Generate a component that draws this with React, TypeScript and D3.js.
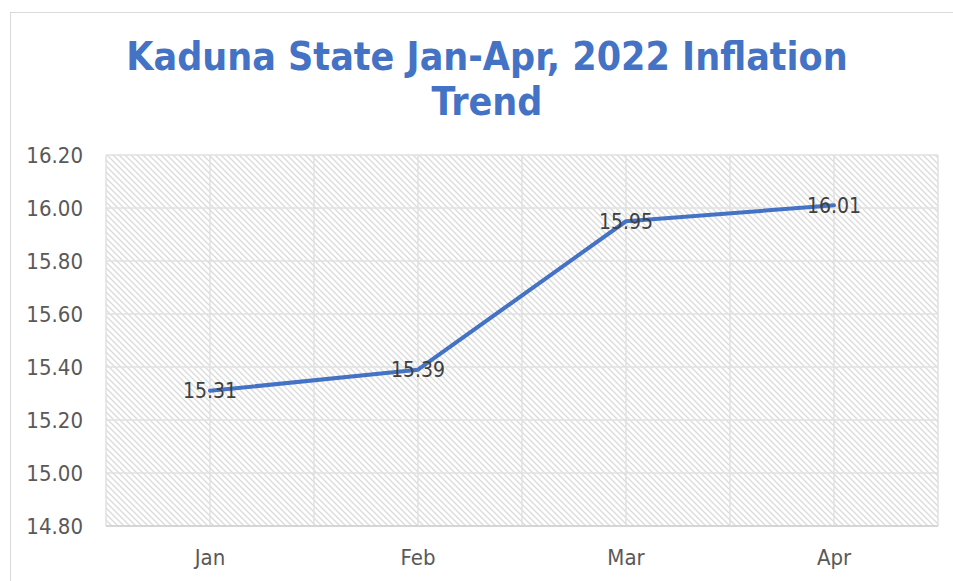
import React from 'react';
import * as d3 from 'd3';

const months = ['Jan', 'Feb', 'Mar', 'Apr'];
const inflation = [15.31, 15.39, 15.95, 16.01];
const yTicks = [14.8, 15.0, 15.2, 15.4, 15.6, 15.8, 16.0, 16.2];
const title = ['Kaduna State Jan-Apr, 2022 Inflation', 'Trend'];

const W = 953;
const H = 581;
const plot = { left: 106, right: 938, top: 155, bottom: 526 };

export default function App() {
  const x = d3.scaleBand<string>()
    .domain(months)
    .range([plot.left, plot.right]);

  const y = d3.scaleLinear()
    .domain([14.8, 16.2])
    .range([plot.bottom, plot.top]);

  const cx = (m: string) => (x(m) ?? 0) + x.bandwidth() / 2;

  const line = d3.line<number>()
    .x((_, i) => cx(months[i]))
    .y(d => y(d));

  // vertical grid at category edges and centres
  const vLines: number[] = [];
  months.forEach(m => {
    vLines.push(x(m) ?? 0);
    vLines.push(cx(m));
  });
  vLines.push(plot.right);

  const font = "'DejaVu Sans Condensed', 'DejaVu Sans', sans-serif";

  return (
    <svg width={W} height={H} style={{ position: 'absolute', left: 0, top: 0 }}>
      <defs>
        <pattern id="hatch" width="6" height="6" patternUnits="userSpaceOnUse">
          <path d="M-1.5,-1.5 L7.5,7.5 M-1.5,4.5 L1.5,7.5 M4.5,-1.5 L7.5,1.5" stroke="#dadada" strokeWidth="1.3" />
        </pattern>
      </defs>
      <rect x={0} y={0} width={W} height={H} fill="#fff" />
      <rect x={10.5} y={12.5} width={W + 10} height={H + 10} fill="#fff" stroke="#d9d9d9" />

      {title.map((t, i) => (
        <text
          key={i}
          x={487}
          y={70 + i * 45}
          textAnchor="middle"
          fill="#4472C4"
          fontFamily={font}
          fontWeight="bold"
          fontSize={39}
        >
          {t}
        </text>
      ))}

      <rect
        x={plot.left}
        y={plot.top}
        width={plot.right - plot.left}
        height={plot.bottom - plot.top}
        fill="url(#hatch)"
      />

      {yTicks.map(t => (
        <line key={t} x1={plot.left} x2={plot.right} y1={y(t)} y2={y(t)} stroke="#e0e0e0" strokeWidth={1.5} />
      ))}
      {vLines.map((v, i) => (
        <line key={i} x1={v} x2={v} y1={plot.top} y2={plot.bottom} stroke="#e0e0e0" strokeWidth={1.5} />
      ))}
      <line x1={plot.left} x2={plot.right} y1={plot.bottom} y2={plot.bottom} stroke="#d0d0d0" strokeWidth={1.5} />

      {yTicks.map(t => (
        <text
          key={t}
          x={83}
          y={y(t) + 8}
          textAnchor="end"
          fill="#595959"
          fontFamily={font}
          fontSize={22}
        >
          {t.toFixed(2)}
        </text>
      ))}

      {months.map(m => (
        <text
          key={m}
          x={cx(m)}
          y={565}
          textAnchor="middle"
          fill="#595959"
          fontFamily={font}
          fontSize={22}
        >
          {m}
        </text>
      ))}

      <path
        d={line(inflation) ?? ''}
        fill="none"
        stroke="#4472C4"
        strokeWidth={4}
        strokeLinejoin="round"
        strokeLinecap="round"
      />

      {inflation.map((v, i) => (
        <text
          key={i}
          x={cx(months[i])}
          y={y(v) + 7.5}
          textAnchor="middle"
          fill="#404040"
          fontFamily={font}
          fontSize={21}
        >
          {v.toFixed(2)}
        </text>
      ))}
    </svg>
  );
}
